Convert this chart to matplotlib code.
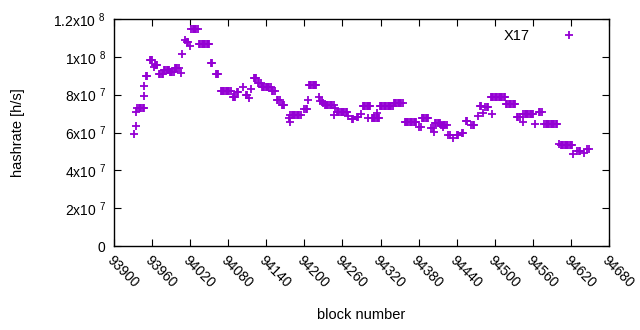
import numpy as np
import matplotlib
matplotlib.use("Agg")
import matplotlib.pyplot as plt
from matplotlib.transforms import ScaledTranslation

plt.rcParams['font.family'] = ['Liberation Sans', 'DejaVu Sans']
plt.rcParams['mathtext.fontset'] = 'custom'
plt.rcParams['mathtext.rm'] = 'Liberation Sans'

PURPLE = "#9400d3"

# block numbers and hashrate (in 1e6 h/s)
BLOCKS = [
    93932, 93934, 93935, 93937, 93939, 93941, 93943, 93945, 93947, 93947, 93948,
    93950, 93952, 93956, 93958, 93960, 93963, 93964, 93966, 93968,
    93971, 93973, 93975, 93977, 93979, 93981, 93983, 93985, 93987,
    93988, 93990, 93992, 93994, 93996, 93998, 94000, 94002,
    94006, 94007, 94012, 94015, 94017, 94020,
    94022, 94024, 94026, 94028, 94030, 94032,
    94034, 94036, 94038, 94040, 94042, 94044, 94046, 94048, 94050,
    94053, 94055, 94060, 94062, 94064,
    94068, 94070, 94072, 94074, 94076, 94078, 94080, 94082, 94084,
    94087, 94089, 94091, 94094, 94096, 94103, 94108, 94110, 94112, 94116,
    94120, 94122, 94124, 94127, 94129, 94131,
    94133, 94135, 94137, 94139, 94141, 94143, 94145, 94147,
    94149, 94151, 94153, 94157, 94159, 94161, 94164, 94166, 94168,
    94175, 94177,
    94178, 94180, 94182, 94184, 94186, 94188, 94190, 94192, 94194,
    94200, 94202, 94204, 94206,
    94207, 94209, 94211, 94213, 94215, 94217, 94219,
    94223, 94225, 94227, 94230,
    94232, 94234, 94236, 94238, 94240, 94242, 94244, 94246,
    94248, 94247,
    94251, 94253, 94255, 94257, 94259, 94261, 94263, 94265, 94267,
    94269, 94275, 94277, 94283, 94285, 94289,
    94292, 94294, 94296, 94298, 94300, 94302, 94304,
    94301,
    94306, 94308, 94310, 94312, 94314, 94316, 94318,
    94314,
    94319, 94321, 94323, 94325, 94327, 94329, 94331, 94333, 94335, 94337, 94339,
    94341, 94343, 94345, 94347, 94349, 94351, 94353, 94355,
    94358, 94360, 94362, 94364, 94366, 94368, 94370, 94372, 94374, 94376,
    94381, 94383,
    94385, 94387, 94389, 94391, 94393, 94395,
    94400, 94402, 94404,
    94406, 94408, 94410, 94412, 94414, 94416, 94418, 94420, 94422, 94424,
    94419, 94427, 94429, 94434, 94440, 94442, 94448, 94450,
    94455, 94457, 94463, 94465, 94467, 94473, 94477, 94479, 94482,
    94485, 94487, 94489, 94495,
    94494, 94496, 94498, 94500, 94502, 94504, 94506, 94508, 94510, 94512, 94514, 94516,
    94518, 94520, 94522, 94524, 94526, 94528, 94530, 94532,
    94535, 94537, 94539, 94544,
    94545, 94547, 94549, 94551, 94553, 94555, 94557, 94559, 94561,
    94563, 94570, 94572, 94574,
    94578, 94580, 94582, 94584, 94586, 94588, 94590, 94592, 94594, 94596, 94598,
    94602,
    94604, 94606, 94608, 94610, 94612, 94614, 94616, 94618, 94620, 94622,
    94624, 94630, 94632, 94634, 94640, 94646, 94648,
]

HASHRATE_M = [
    59.2, 63.4, 71.0, 72.8, 72.8, 72.8, 72.8, 72.8, 72.8, 79.3, 84.4,
    89.7, 89.7, 98.3, 98.3, 98.3, 94.6, 95.7, 95.7, 95.7,
    90.8, 90.8, 90.8, 90.8, 93.0, 93.0, 93.0, 93.0, 93.0,
    92.1, 92.1, 92.1, 92.1, 93.9, 93.9, 93.9, 93.9,
    91.5, 101.3, 108.9, 107.7, 107.7, 105.7,
    114.5, 114.5, 114.5, 114.5, 114.5, 114.5,
    106.6, 106.6, 106.6, 106.6, 106.6, 106.6, 106.6, 106.6, 106.6,
    96.6, 96.6, 90.8, 90.8, 90.8,
    81.9, 81.9, 81.9, 81.9, 81.9, 81.9, 81.9, 81.9, 81.9,
    78.8, 78.8, 78.8, 81.4, 81.4, 84.0, 79.8, 79.8, 78.1, 82.8,
    88.6, 88.6, 88.6, 86.0, 86.0, 86.0,
    83.9, 83.9, 83.9, 83.9, 83.9, 83.9, 83.9, 83.9,
    82.1, 82.1, 82.1, 77.2, 77.2, 77.2, 74.5, 74.5, 74.5,
    67.5, 65.7,
    69.2, 69.2, 69.2, 69.2, 69.2, 69.2, 69.2, 69.2, 69.2,
    72.3, 72.3, 72.3, 77.2,
    85.1, 85.1, 85.1, 85.1, 85.1, 85.1, 85.1,
    78.6, 76.8, 76.8, 75.4,
    74.5, 74.5, 74.5, 74.5, 74.5, 74.5, 74.5, 74.5,
    72.8, 69.2,
    70.7, 70.7, 70.7, 70.7, 70.7, 70.7, 70.7, 70.7, 70.7,
    68.9, 67.1, 67.1, 68.0, 68.0, 69.6,
    74.0, 74.0, 74.0, 74.0, 74.0, 74.0, 74.0,
    67.5,
    67.5, 67.5, 67.5, 67.5, 67.5, 67.5, 67.5,
    70.1,
    74.0, 74.0, 74.0, 74.0, 74.0, 74.0, 74.0, 74.0, 74.0, 74.0, 74.0,
    75.4, 75.4, 75.4, 75.4, 75.4, 75.4, 75.4, 75.4,
    65.4, 65.4, 65.4, 65.4, 65.4, 65.4, 65.4, 65.4, 65.4, 65.4,
    63.1, 63.1,
    67.5, 67.5, 67.5, 67.5, 67.5, 67.5,
    62.2, 62.2, 60.4,
    65.0, 65.0, 65.0, 65.0, 65.0, 64.0, 64.0, 64.0, 64.0, 64.0,
    63.1, 58.7, 58.7, 56.9, 58.7, 58.7, 59.9, 59.9,
    66.2, 66.2, 64.0, 64.0, 64.0, 68.7, 74.0, 74.0, 70.1,
    73.3, 73.3, 73.3, 69.8,
    78.6, 78.6, 78.6, 78.6, 78.6, 78.6, 78.6, 78.6, 78.6, 78.6, 78.6, 78.6,
    74.9, 74.9, 74.9, 74.9, 74.9, 74.9, 74.9, 74.9,
    68.4, 68.4, 68.4, 65.4,
    69.6, 69.6, 69.6, 69.6, 69.6, 69.6, 69.6, 69.6, 69.6,
    64.3, 70.7, 70.7, 70.7,
    64.3, 64.3, 64.3, 64.3, 64.3, 64.3, 64.3, 64.3, 64.3, 64.3, 64.3,
    53.8,
    53.2, 53.2, 53.2, 53.2, 53.2, 53.2, 53.2, 53.2, 53.2, 53.2,
    48.6, 50.4, 50.4, 50.4, 49.0, 51.1, 51.1,
]

X_TICKS = list(range(93900, 94681, 60))
Y_TICKS = [0, 2e7, 4e7, 6e7, 8e7, 1e8, 1.2e8]
Y_TICKLABELS = ["0", "2x10 $^{7}$", "4x10 $^{7}$", "6x10 $^{7}$",
                "8x10 $^{7}$", "1x10 $^{8}$", "1.2x10 $^{8}$"]

fig = plt.figure(figsize=(6.4, 3.3), dpi=100)
ax = fig.add_axes([114 / 640, 1 - 246 / 330, 495 / 640, 227 / 330])

hr = np.array(HASHRATE_M) * 1e6
ax.plot(BLOCKS, hr, linestyle="none", marker="+", ms=6.2, mew=1.3,
        color=PURPLE, label="X17")

ax.set_xlim(93900, 94680)
ax.set_ylim(0, 1.2e8)
ax.set_xticks(X_TICKS)
ax.set_xticklabels([str(t) for t in X_TICKS], rotation=-45, ha="left",
                   va="top", rotation_mode="anchor", fontsize=10)
shift = ScaledTranslation(-5 / 100, 0, fig.dpi_scale_trans)
for lab in ax.get_xticklabels():
    lab.set_transform(lab.get_transform() + shift)
ax.set_yticks(Y_TICKS)
ax.set_yticklabels(Y_TICKLABELS, fontsize=10)
ax.tick_params(direction="in", length=5, width=0.8, top=True, right=True,
               pad=6, colors="black")
ax.tick_params(axis="x", pad=5)
for sp in ax.spines.values():
    sp.set_linewidth(1.0)

ax.set_xlabel("block number", fontsize=10.5, labelpad=13)
ax.set_ylabel("hashrate [h/s]", fontsize=10.5, labelpad=20)

ax.legend(loc="upper right", frameon=False, markerfirst=False, fontsize=10.5,
          handlelength=1.0, handletextpad=2.2, borderaxespad=0.3,
          bbox_to_anchor=(0.955, 1.0))

fig.savefig("out.png", dpi=100)
